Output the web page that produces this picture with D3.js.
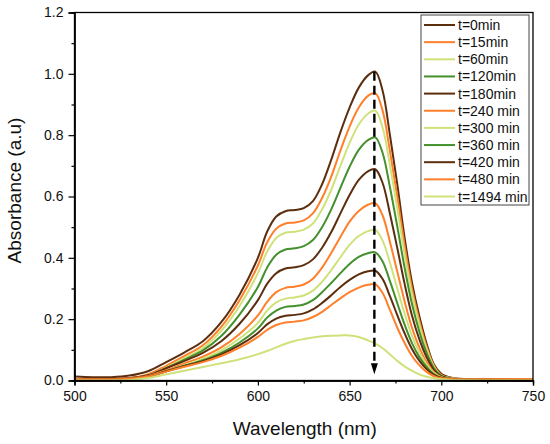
<!DOCTYPE html>
<html>
<head>
<meta charset="utf-8">
<script src="https://cdn.jsdelivr.net/npm/d3@7"></script>
<style>
  body { margin: 0; background: #fff; }
  text { font-family: "Liberation Sans", Arial, sans-serif; fill: #111; }
</style>
</head>
<body>
<svg width="550" height="444"></svg>
<script>
var svg = d3.select("svg"),
    width = +svg.attr("width"),
    height = +svg.attr("height");

// wavelength grid (nm) shared by all spectra
var wavelengths = [500, 510, 520, 530, 540, 550, 560, 570, 580, 590, 600, 605, 610, 615, 620, 625, 630, 635, 640, 645, 650, 655, 660, 664, 668, 672, 676, 680, 684, 688, 692, 696, 700, 705, 710, 720, 735, 750];

var labels = ["t=0min", "t=15min", "t=60min", "t=120min", "t=180min", "t=240 min", "t=300 min", "t=360 min", "t=420 min", "t=480 min", "t=1494 min"];
var colors = ["#5c2e0e", "#ff7f2a", "#cfe27a", "#43902c", "#5c2e0e", "#ff7f2a", "#cfe27a", "#43902c", "#5c2e0e", "#ff7f2a", "#cfe27a"];

var t0 = [0.013, 0.011, 0.011, 0.016, 0.030, 0.060, 0.092, 0.128, 0.190, 0.280, 0.400, 0.485, 0.535, 0.552, 0.556, 0.562, 0.585, 0.640, 0.720, 0.810, 0.890, 0.955, 0.995, 1.007, 0.945, 0.800, 0.640, 0.465, 0.320, 0.210, 0.120, 0.052, 0.022, 0.010, 0.006, 0.005, 0.004, 0.003];
var t15 = [0.005, 0.004, 0.004, 0.008, 0.020, 0.048, 0.080, 0.115, 0.175, 0.262, 0.375, 0.450, 0.495, 0.512, 0.515, 0.522, 0.545, 0.595, 0.665, 0.750, 0.828, 0.890, 0.928, 0.937, 0.880, 0.748, 0.600, 0.440, 0.300, 0.195, 0.110, 0.048, 0.018, 0.008, 0.005, 0.004, 0.003, 0.003];
var t60 = [0.002, 0.002, 0.002, 0.005, 0.016, 0.042, 0.073, 0.106, 0.162, 0.243, 0.350, 0.420, 0.465, 0.482, 0.485, 0.492, 0.512, 0.558, 0.622, 0.700, 0.775, 0.835, 0.870, 0.880, 0.825, 0.702, 0.562, 0.412, 0.282, 0.182, 0.102, 0.044, 0.016, 0.007, 0.004, 0.003, 0.002, 0.002];
var t120 = [0.002, 0.002, 0.002, 0.005, 0.015, 0.040, 0.068, 0.098, 0.145, 0.215, 0.305, 0.368, 0.410, 0.427, 0.431, 0.438, 0.458, 0.500, 0.558, 0.628, 0.697, 0.752, 0.784, 0.793, 0.742, 0.630, 0.502, 0.368, 0.250, 0.160, 0.090, 0.040, 0.015, 0.006, 0.004, 0.003, 0.002, 0.002];
var t180 = [0.005, 0.005, 0.005, 0.008, 0.017, 0.040, 0.064, 0.090, 0.128, 0.185, 0.262, 0.315, 0.350, 0.365, 0.369, 0.376, 0.395, 0.433, 0.484, 0.545, 0.605, 0.654, 0.682, 0.689, 0.644, 0.544, 0.432, 0.315, 0.212, 0.135, 0.076, 0.034, 0.013, 0.006, 0.004, 0.003, 0.002, 0.002];
var t240 = [0.005, 0.004, 0.004, 0.007, 0.015, 0.034, 0.056, 0.078, 0.108, 0.152, 0.212, 0.256, 0.288, 0.302, 0.306, 0.313, 0.332, 0.368, 0.416, 0.468, 0.518, 0.553, 0.573, 0.578, 0.538, 0.452, 0.355, 0.258, 0.172, 0.108, 0.060, 0.027, 0.011, 0.005, 0.004, 0.003, 0.003, 0.003];
var t300 = [0.002, 0.002, 0.002, 0.004, 0.012, 0.030, 0.050, 0.070, 0.098, 0.137, 0.188, 0.228, 0.255, 0.267, 0.271, 0.277, 0.293, 0.322, 0.360, 0.402, 0.442, 0.471, 0.487, 0.491, 0.456, 0.384, 0.300, 0.218, 0.146, 0.092, 0.052, 0.024, 0.010, 0.005, 0.003, 0.002, 0.002, 0.002];
var t360 = [0.002, 0.002, 0.002, 0.004, 0.012, 0.030, 0.048, 0.066, 0.090, 0.124, 0.170, 0.205, 0.228, 0.240, 0.243, 0.248, 0.262, 0.288, 0.318, 0.350, 0.380, 0.403, 0.415, 0.418, 0.388, 0.324, 0.252, 0.182, 0.122, 0.077, 0.044, 0.020, 0.009, 0.004, 0.003, 0.002, 0.002, 0.002];
var t420 = [0.004, 0.004, 0.004, 0.006, 0.013, 0.030, 0.047, 0.063, 0.085, 0.115, 0.155, 0.183, 0.202, 0.211, 0.214, 0.219, 0.232, 0.253, 0.278, 0.305, 0.328, 0.346, 0.356, 0.358, 0.331, 0.275, 0.213, 0.154, 0.103, 0.065, 0.037, 0.018, 0.008, 0.004, 0.003, 0.002, 0.002, 0.002];
var t480 = [0.005, 0.004, 0.004, 0.006, 0.013, 0.029, 0.045, 0.060, 0.080, 0.107, 0.142, 0.165, 0.181, 0.189, 0.192, 0.196, 0.207, 0.224, 0.246, 0.268, 0.288, 0.303, 0.312, 0.314, 0.285, 0.230, 0.172, 0.122, 0.080, 0.050, 0.028, 0.014, 0.007, 0.005, 0.004, 0.003, 0.003, 0.003];
var t1494 = [0.000, 0.000, 0.000, 0.002, 0.008, 0.020, 0.032, 0.044, 0.056, 0.069, 0.086, 0.096, 0.108, 0.120, 0.129, 0.135, 0.140, 0.144, 0.146, 0.147, 0.147, 0.142, 0.131, 0.120, 0.105, 0.085, 0.064, 0.046, 0.032, 0.020, 0.012, 0.007, 0.004, 0.002, 0.001, 0.000, 0.000, 0.000];

var series = [t0, t15, t60, t120, t180, t240, t300, t360, t420, t480, t1494];

// dashed arrow marking the drop of the 664 nm band
var arrowNm = 663.5, arrowFrom = 1.007, arrowTo = 0.02;

var xTicks = [500, 550, 600, 650, 700, 750];
var yTicks = [0.0, 0.2, 0.4, 0.6, 0.8, 1.0, 1.2];

var margin = {left: 74.5, right: 17, top: 12.5, bottom: 63.5};

var x = d3.scaleLinear().domain([500, 750]).range([margin.left, width - margin.right]);
var y = d3.scaleLinear().domain([0, 1.2]).range([height - margin.bottom, margin.top]);

var line = d3.line()
    .x(function(d, i) { return x(wavelengths[i]); })
    .y(function(d) { return y(d); })
    .curve(d3.curveCatmullRom.alpha(0.5));

// spectra
svg.append("g").selectAll("path")
    .data(series)
    .enter().append("path")
    .attr("d", line)
    .attr("fill", "none")
    .attr("stroke", function(d, i) { return colors[i]; })
    .attr("stroke-width", 2);

// arrow
svg.append("line")
    .attr("x1", x(arrowNm)).attr("x2", x(arrowNm))
    .attr("y1", y(arrowFrom)).attr("y2", y(arrowTo) - 8)
    .attr("stroke", "#000")
    .attr("stroke-width", 2.4)
    .attr("stroke-dasharray", "9,5");
svg.append("path")
    .attr("d", "M" + (x(arrowNm) - 3.5) + "," + (y(arrowTo) - 11) +
               "L" + (x(arrowNm) + 3.5) + "," + (y(arrowTo) - 11) +
               "L" + x(arrowNm) + "," + y(arrowTo) + "Z")
    .attr("fill", "#000");

// frame
svg.append("rect")
    .attr("x", x(500)).attr("y", y(1.2))
    .attr("width", x(750) - x(500)).attr("height", y(0) - y(1.2))
    .attr("fill", "none")
    .attr("stroke", "#000")
    .attr("stroke-width", 1.3);

// axes
svg.append("g")
    .attr("transform", "translate(0," + y(0) + ")")
    .call(d3.axisBottom(x).tickValues(xTicks).tickSize(5).tickPadding(6).tickFormat(d3.format("d")));
svg.append("g")
    .attr("transform", "translate(0," + y(0) + ")")
    .call(d3.axisBottom(x).tickValues(d3.range(525, 750, 50)).tickSize(3).tickFormat(""));

svg.append("g")
    .attr("transform", "translate(" + x(500) + ",0)")
    .call(d3.axisLeft(y).tickValues(yTicks).tickSize(6).tickPadding(5).tickFormat(d3.format(".1f")));
svg.append("g")
    .attr("transform", "translate(" + x(500) + ",0)")
    .call(d3.axisLeft(y).tickValues(d3.range(0.1, 1.2, 0.2)).tickSize(3).tickFormat(""));

svg.selectAll(".domain").attr("stroke-width", 1.3);
svg.selectAll(".tick line").attr("stroke-width", 1.2);
svg.selectAll(".tick text").attr("font-size", 14).attr("font-family", "Liberation Sans, Arial, sans-serif").attr("fill", "#111");

// axis titles
svg.append("text")
    .attr("x", (x(500) + x(750)) / 2 + 1)
    .attr("y", 435)
    .attr("text-anchor", "middle")
    .attr("font-size", 19)
    .text("Wavelength (nm)");
svg.append("text")
    .attr("transform", "translate(21," + (y(0.6) - 6) + ") rotate(-90)")
    .attr("text-anchor", "middle")
    .attr("font-size", 19)
    .text("Absorbance (a.u)");

// legend
var legend = svg.append("g").attr("transform", "translate(421,15)");
legend.append("rect")
    .attr("width", 108).attr("height", 190)
    .attr("fill", "#fff")
    .attr("stroke", "#444")
    .attr("stroke-width", 1);
var item = legend.selectAll(".item")
    .data(labels)
    .enter().append("g")
    .attr("class", "item")
    .attr("transform", function(d, i) { return "translate(0," + (10 + i * 17.15) + ")"; });
item.append("line")
    .attr("x1", 3).attr("x2", 34)
    .attr("stroke", function(d, i) { return colors[i]; })
    .attr("stroke-width", 2);
item.append("text")
    .attr("x", 37)
    .attr("dy", "0.36em")
    .attr("font-size", 14)
    .text(function(d) { return d; });
</script>
</body>
</html>
